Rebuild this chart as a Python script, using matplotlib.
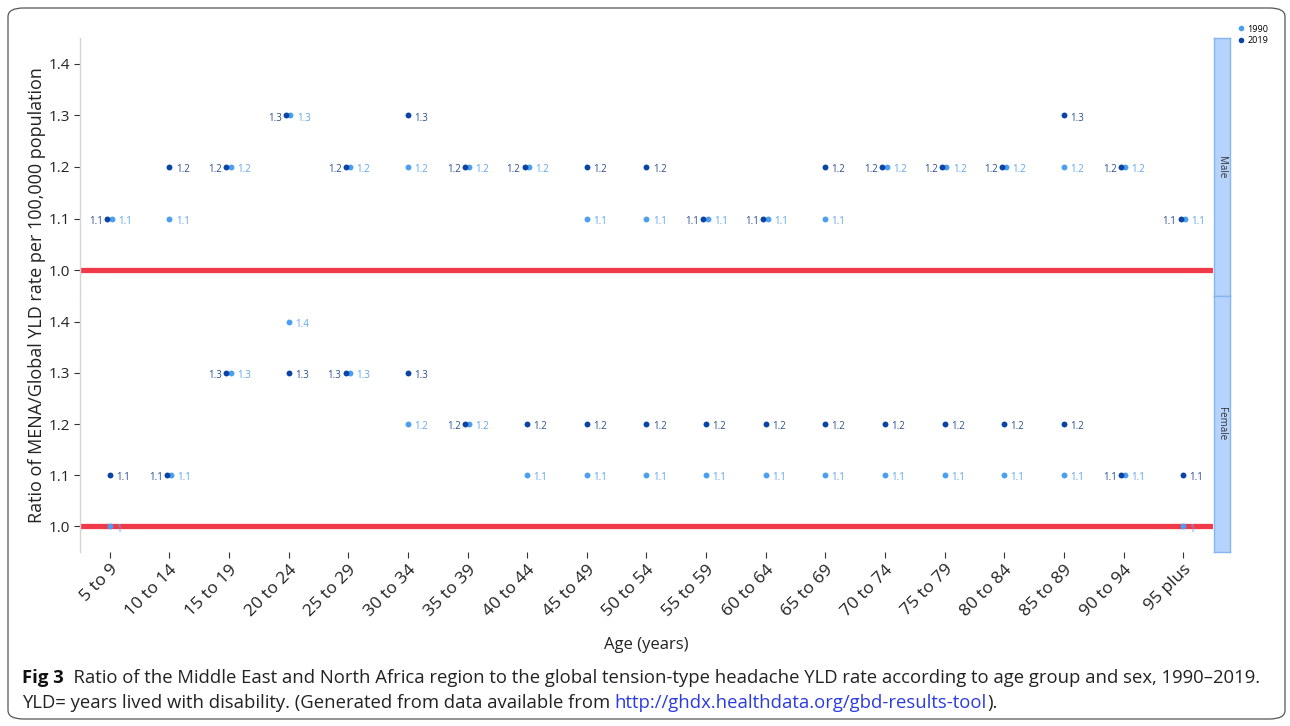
import matplotlib
matplotlib.use("Agg")
import matplotlib.pyplot as plt
from matplotlib.patches import FancyBboxPatch
from matplotlib.lines import Line2D
import numpy as np

plt.rcParams['font.family'] = ['Open Sans', 'DejaVu Sans']

ages = ["5 to 9", "10 to 14", "15 to 19", "20 to 24", "25 to 29", "30 to 34",
        "35 to 39", "40 to 44", "45 to 49", "50 to 54", "55 to 59", "60 to 64",
        "65 to 69", "70 to 74", "75 to 79", "80 to 84", "85 to 89", "90 to 94",
        "95 plus"]
male_1990 = [1.1, 1.1, 1.2, 1.3, 1.2, 1.2, 1.2, 1.2, 1.1, 1.1, 1.1, 1.1,
             1.1, 1.2, 1.2, 1.2, 1.2, 1.2, 1.1]
male_2019 = [1.1, 1.2, 1.2, 1.3, 1.2, 1.3, 1.2, 1.2, 1.2, 1.2, 1.1, 1.1,
             1.2, 1.2, 1.2, 1.2, 1.3, 1.2, 1.1]
female_1990 = [1.0, 1.1, 1.3, 1.4, 1.3, 1.2, 1.2, 1.1, 1.1, 1.1, 1.1, 1.1,
               1.1, 1.1, 1.1, 1.1, 1.1, 1.1, 1.0]
female_2019 = [1.1, 1.1, 1.3, 1.3, 1.3, 1.3, 1.2, 1.2, 1.2, 1.2, 1.2, 1.2,
               1.2, 1.2, 1.2, 1.2, 1.2, 1.1, 1.1]
sexes = ["Male", "Female"]
yticks = [1.0, 1.1, 1.2, 1.3, 1.4]
years = ["1990", "2019"]

C1990 = "#4b9ff0"
C2019 = "#0a45a5"
L1990 = "#5fa6ee"
L2019 = "#2a4f8e"
RED = "#f03a4a"

W, H = 1290, 726
fig = plt.figure(figsize=(W / 100, H / 100), dpi=100)

def fx(px):
    return px / W

def fy(py):
    return 1 - py / H

# outer rounded border
border = FancyBboxPatch((fx(8), fy(719)), fx(1285) - fx(8), fy(8) - fy(719),
                        boxstyle="round,pad=0,rounding_size=0.012",
                        transform=fig.transFigure, fill=False,
                        edgecolor="#555555", linewidth=0.9)
fig.patches.append(border)

left, right = 80, 1213
panels = [(38, 296), (296, 552)]
x = np.arange(len(ages))
data = [(male_1990, male_2019), (female_1990, female_2019)]

for i, ((top, bot), sex, (v90, v19)) in enumerate(zip(panels, sexes, data)):
    ax = fig.add_axes([fx(left), fy(bot), fx(right) - fx(left), fy(top) - fy(bot)])
    ax.set_xlim(-0.5, len(ages) - 0.5)
    ax.set_ylim(0.95, 1.45)
    ax.axhline(1.0, color=RED, linewidth=3.8, zorder=1)
    v90 = np.array(v90)
    v19 = np.array(v19)
    same = np.isclose(v90, v19)
    x90 = x + np.where(same, 0.03, 0.0)
    x19 = x - np.where(same, 0.045, 0.0)
    ax.scatter(x90, v90, s=18, color=C1990, zorder=3, linewidths=0, label="1990")
    ax.scatter(x19, v19, s=18, color=C2019, zorder=4, linewidths=0, label="2019")
    for xi, a, b, s in zip(x, v90, v19, same):
        la = "1" if np.isclose(a, 1.0) else f"{a:.1f}"
        lb = "1" if np.isclose(b, 1.0) else f"{b:.1f}"
        ax.annotate(la, (xi + (0.03 if s else 0), a), xytext=(4.5, -2),
                    textcoords="offset points", ha="left", va="center",
                    fontsize=7, color=L1990, zorder=5)
        if s:
            ax.annotate(lb, (xi - 0.045, b), xytext=(-3, -2),
                        textcoords="offset points", ha="right", va="center",
                        fontsize=7, color=L2019, zorder=5)
        else:
            ax.annotate(lb, (xi, b), xytext=(4.5, -2),
                        textcoords="offset points", ha="left", va="center",
                        fontsize=7, color=L2019, zorder=5)
    for sp in ["top", "right", "bottom"]:
        ax.spines[sp].set_visible(False)
    ax.spines["left"].set_color("#d5d5d5")
    ax.spines["left"].set_linewidth(1.0)
    ax.set_yticks(yticks)
    ax.set_yticklabels([f"{t:.1f}" for t in yticks])
    ax.tick_params(axis="y", labelsize=11, length=4, color="#333333",
                   labelcolor="#222222", pad=3)
    ax.set_xticks(x)
    if i == 0:
        ax.tick_params(axis="x", which="both", bottom=False, labelbottom=False)
    else:
        ax.set_xticklabels(ages, rotation=45, ha="right", rotation_mode="anchor")
        ax.tick_params(axis="x", labelsize=12.5, length=4, color="#333333",
                       labelcolor="#222222", pad=3)
    # strip
    sax = fig.add_axes([fx(1214), fy(bot), fx(1230) - fx(1214), fy(top) - fy(bot)])
    sax.set_xticks([])
    sax.set_yticks([])
    sax.set_facecolor("#b5d3fc")
    for sp in sax.spines.values():
        sp.set_color("#86b6f2")
        sp.set_linewidth(1.0)
    sax.text(0.5, 0.5, sex, rotation=-90, ha="center", va="center",
             fontsize=7, color="#333333", transform=sax.transAxes)

fig.text(fx(37), (fy(38) + fy(552)) / 2,
         "Ratio of MENA/Global YLD rate per 100,000 population",
         rotation=90, ha="center", va="center", fontsize=13, color="#222222")
fig.text((fx(left) + fx(right)) / 2, fy(645), "Age (years)", ha="center",
         va="center", fontsize=12, color="#222222")

handles = [Line2D([], [], marker="o", linestyle="", color=C1990, markersize=3),
           Line2D([], [], marker="o", linestyle="", color=C2019, markersize=3)]
fig.legend(handles, years, loc="upper left", bbox_to_anchor=(fx(1232), fy(20)),
           frameon=False, fontsize=6.5, handletextpad=0.2, labelspacing=0.3,
           handlelength=1.0, borderpad=0)

# caption
renderer = fig.canvas.get_renderer()

def seq_text(parts, xpx, ypx, size):
    xcur = fx(xpx)
    for txt, kw in parts:
        t = fig.text(xcur, fy(ypx), txt, fontsize=size, va="center", ha="left", **kw)
        bb = t.get_window_extent(renderer=renderer)
        xcur = bb.x1 / W

seq_text([("Fig 3", dict(fontweight="bold", color="#111111")),
          ("  Ratio of the Middle East and North Africa region to the global tension-type headache YLD rate according to age group and sex, 1990\u20132019.",
           dict(color="#222222"))], 22, 678, 13.3)
seq_text([("YLD= years lived with disability. (Generated from data available from ",
           dict(color="#222222")),
          ("http://ghdx.healthdata.org/gbd-results-tool", dict(color="#2b3be0")),
          (").", dict(color="#222222"))], 22, 703, 13.3)

fig.savefig("out.png", dpi=100)
